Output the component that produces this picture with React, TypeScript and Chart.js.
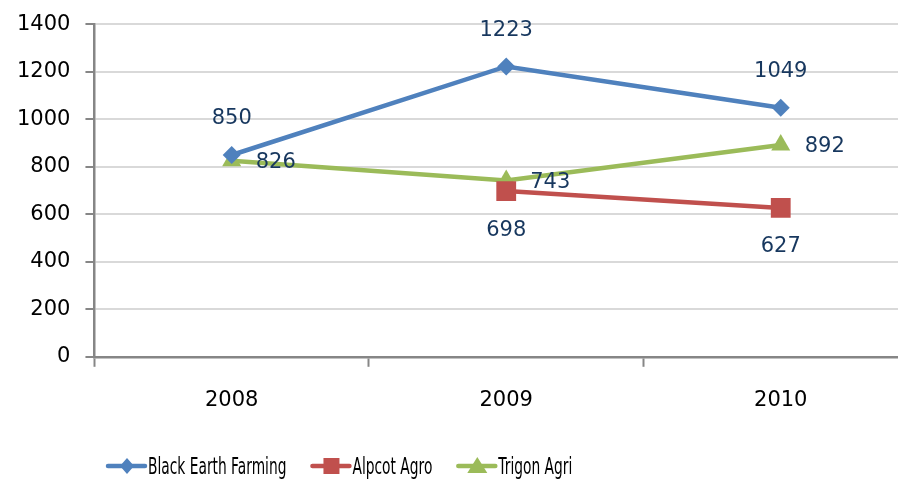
import React, { useEffect, useRef } from "react";
import { Chart, registerables } from "chart.js";

Chart.register(...registerables);

const categories = ["2008", "2009", "2010"];
const blackEarth = [850, 1223, 1049];
const alpcot = [null, 698, 627];
const trigon = [826, 743, 892];
const seriesNames = ["Black Earth Farming", "Alpcot Agro", "Trigon Agri"];
const colors = ["#4F81BD", "#C0504D", "#9BBB59"];
const labelPos = ["above", "below", "right"];

const FONT = "'DejaVu Sans', sans-serif";

const labelPlugin = {
  id: "valueLabels",
  afterDatasetsDraw(chart: any) {
    const ctx = chart.ctx;
    ctx.save();
    ctx.font = `21px ${FONT}`;
    ctx.fillStyle = "#17375E";
    chart.data.datasets.forEach((ds: any, i: number) => {
      const meta = chart.getDatasetMeta(i);
      meta.data.forEach((pt: any, j: number) => {
        const v = ds.data[j];
        if (v === null || v === undefined) return;
        const pos = labelPos[i];
        const txt = String(v);
        if (pos === "above") {
          ctx.textAlign = "center";
          ctx.textBaseline = "middle";
          ctx.fillText(txt, pt.x, pt.y - 36);
        } else if (pos === "below") {
          ctx.textAlign = "center";
          ctx.textBaseline = "middle";
          ctx.fillText(txt, pt.x, pt.y + 39);
        } else {
          ctx.textAlign = "left";
          ctx.textBaseline = "middle";
          ctx.fillText(txt, pt.x + 24, pt.y + 2);
        }
      });
    });
    ctx.restore();
  },
};

const legendPlugin = {
  id: "customLegend",
  afterDraw(chart: any) {
    const ctx = chart.ctx;
    ctx.save();
    const y = 466;
    let x = 108;
    const squeeze = 0.6;
    ctx.font = `23px ${FONT}`;
    ctx.textBaseline = "middle";
    ctx.textAlign = "left";
    const styles = ["rectRot", "rect", "triangle"];
    seriesNames.forEach((name, i) => {
      ctx.strokeStyle = colors[i];
      ctx.lineWidth = 4.5;
      ctx.lineCap = "round";
      ctx.beginPath();
      ctx.moveTo(x, y);
      ctx.lineTo(x + 37, y);
      ctx.stroke();
      ctx.fillStyle = colors[i];
      const cx = x + 19;
      if (styles[i] === "rectRot") {
        ctx.beginPath();
        ctx.moveTo(cx, y - 8);
        ctx.lineTo(cx + 7, y);
        ctx.lineTo(cx, y + 8);
        ctx.lineTo(cx - 7, y);
        ctx.closePath();
        ctx.fill();
      } else if (styles[i] === "rect") {
        ctx.fillRect(cx - 8, y - 8, 16, 16);
      } else {
        ctx.beginPath();
        ctx.moveTo(cx, y - 9);
        ctx.lineTo(cx + 10, y + 7);
        ctx.lineTo(cx - 10, y + 7);
        ctx.closePath();
        ctx.fill();
      }
      ctx.fillStyle = "#000000";
      const w = ctx.measureText(name).width * squeeze;
      ctx.fillText(name, x + 40, y + 2, w);
      x = x + 40 + w + 26;
    });
    ctx.restore();
  },
};

export default function App() {
  const ref = useRef<HTMLCanvasElement | null>(null);
  useEffect(() => {
    if (!ref.current) return;
    const chart = new Chart(ref.current, {
      type: "line",
      data: {
        labels: categories,
        datasets: [
          {
            label: seriesNames[0],
            data: blackEarth,
            borderColor: colors[0],
            backgroundColor: colors[0],
            borderWidth: 4.5,
            pointStyle: "rectRot",
            pointRadius: 9,
            pointHoverRadius: 9,
            pointBorderWidth: 0,
          },
          {
            label: seriesNames[1],
            data: alpcot,
            borderColor: colors[1],
            backgroundColor: colors[1],
            borderWidth: 4.5,
            pointStyle: "rect",
            pointRadius: 14,
            pointHoverRadius: 14,
            pointBorderWidth: 0,
          },
          {
            label: seriesNames[2],
            data: trigon,
            borderColor: colors[2],
            backgroundColor: colors[2],
            borderWidth: 4.5,
            pointStyle: "triangle",
            pointRadius: 11,
            pointHoverRadius: 11,
            pointBorderWidth: 0,
          },
        ],
      },
      options: {
        responsive: false,
        animation: false,
        events: [],
        layout: { padding: { left: 2, right: 0, top: 5, bottom: 46 } },
        plugins: {
          legend: { display: false },
          tooltip: { enabled: false },
        },
        scales: {
          x: {
            offset: true,
            grid: {
              offset: true,
              drawOnChartArea: false,
              drawTicks: true,
              tickLength: 10,
              tickColor: "#868686",
              tickWidth: 2,
              color: "#868686",
            },
            border: { color: "#868686", width: 2.5 },
            ticks: { color: "#000000", font: { family: FONT, size: 21 }, padding: 21 },
          },
          y: {
            min: 0,
            max: 1400,
            ticks: {
              stepSize: 200,
              color: "#000000",
              font: { family: FONT, size: 21, lineHeight: 0.9 },
              padding: 15,
              callback: (v: any) => String(v),
            },
            grid: {
              color: "#D9D9D9",
              lineWidth: 2,
              tickLength: 9,
              tickColor: "#868686",
              tickWidth: 2,
            },
            border: { color: "#868686", width: 2.5 },
          },
        },
      },
      plugins: [labelPlugin, legendPlugin],
    });
    return () => chart.destroy();
  }, []);
  return (
    <div
      style={{
        position: "fixed",
        left: 0,
        top: 0,
        width: 898,
        height: 480,
        overflow: "hidden",
        background: "#ffffff",
      }}
    >
      <canvas ref={ref} width={932} height={480} style={{ display: "block" }} />
    </div>
  );
}
